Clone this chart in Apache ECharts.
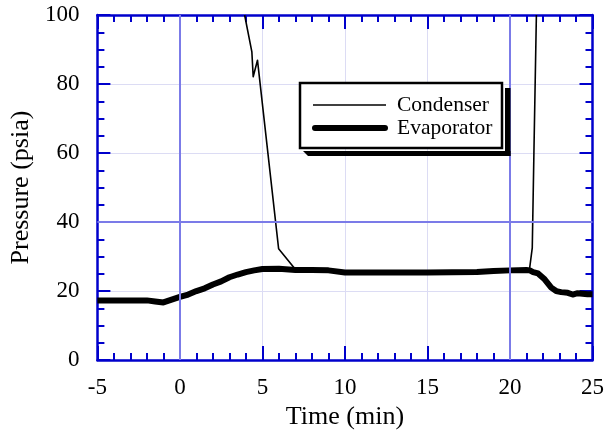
<!DOCTYPE html>
<html>
<head>
<meta charset="utf-8">
<script src="https://cdn.jsdelivr.net/npm/echarts@6/dist/echarts.min.js"></script>
<style>
  html, body { margin: 0; padding: 0; background: #fff; }
  #chart { width: 607px; height: 435px; }
</style>
</head>
<body>
<div id="chart"></div>
<script>
// Pressure traces over time (minutes vs psia)
const condenserTime = [3.92, 4.36, 4.44, 4.70, 5.98, 6.93, 8, 9, 10, 12, 15, 18, 20, 21.18, 21.35, 21.45, 21.6];
const condenserPsia = [100, 89.3, 82.1, 86.9, 32.3, 26.7, 26.1, 26.0, 25.4, 25.4, 25.4, 25.5, 26.0, 26.2, 32.5, 60, 100];

const evapTime = [-5, -4, -3, -2, -1.5, -1, -0.5, 0, 0.5, 1, 1.5, 2, 2.5, 3, 3.5, 4, 4.5, 5, 6, 7, 8, 9, 10, 12, 15, 18, 19, 20, 21, 21.2, 21.4, 21.7, 22.1, 22.5, 22.8, 23.1, 23.5, 23.8, 24.1, 24.7, 25];
const evapPsia = [17.3, 17.3, 17.3, 17.3, 17.0, 16.7, 17.5, 18.3, 19.0, 20.0, 20.8, 21.9, 22.8, 24.0, 24.8, 25.5, 26.0, 26.4, 26.5, 26.1, 26.1, 26.0, 25.4, 25.4, 25.4, 25.5, 25.8, 26.0, 26.1, 26.0, 25.5, 25.1, 23.4, 21.0, 20.0, 19.7, 19.5, 19.0, 19.4, 19.1, 19.1];

const xMin = -5, xMax = 25, xStep = 5;
const yMin = 0, yMax = 100, yStep = 20;
const refTimes = [0, 20];
const refPsia = [40];
const seriesNames = ['Condenser', 'Evaporator'];

const pairs = (xs, ys) => xs.map((x, i) => [x, ys[i]]);

const FONT = 'Liberation Serif';
const AXIS_BLUE = '#0000cc';
const REF_BLUE = '#7b7be8';
const GRID_LAV = '#dcdcf4';

function xAxisCfg(pos, showLabels) {
  return {
    type: 'value', position: pos, min: xMin, max: xMax, interval: xStep,
    axisLine: { show: true, onZero: false, lineStyle: { color: AXIS_BLUE, width: 2.5 } },
    axisTick: { show: true, inside: true, length: 14, lineStyle: { color: AXIS_BLUE, width: 2 } },
    minorTick: { show: true, splitNumber: 5, length: 7, lineStyle: { color: AXIS_BLUE, width: 2 } },
    axisLabel: { show: showLabels, margin: 16, color: '#000', fontFamily: FONT, fontSize: 23 },
    splitLine: { show: showLabels, lineStyle: { color: GRID_LAV, width: 1 } },
    name: showLabels ? 'Time (min)' : '', nameLocation: 'middle', nameGap: 38,
    nameTextStyle: { color: '#000', fontFamily: FONT, fontSize: 26 }
  };
}
function yAxisCfg(pos, showLabels) {
  return {
    type: 'value', position: pos, min: yMin, max: yMax, interval: yStep,
    axisLine: { show: true, onZero: false, lineStyle: { color: AXIS_BLUE, width: 2.5 } },
    axisTick: { show: true, inside: true, length: 13, lineStyle: { color: AXIS_BLUE, width: 2 } },
    minorTick: { show: true, splitNumber: 4, length: 7, lineStyle: { color: AXIS_BLUE, width: 2 } },
    axisLabel: { show: showLabels, margin: 18, color: '#000', fontFamily: FONT, fontSize: 23 },
    splitLine: { show: showLabels, lineStyle: { color: GRID_LAV, width: 1 } },
    name: showLabels ? 'Pressure (psia)' : '', nameLocation: 'middle', nameGap: 62,
    nameTextStyle: { color: '#000', fontFamily: FONT, fontSize: 26 }
  };
}

const chart = echarts.init(document.getElementById('chart'), null, { renderer: 'canvas' });

// Legend box with drop shadow
const lgX = 300, lgY = 83, lgW = 202, lgH = 65;
const legendFont = '21.5px "Liberation Serif"';
const legendGraphics = [
  { type: 'rect', shape: { x: lgX + lgW + 3, y: lgY + 5, width: 5.5, height: lgH + 3 }, style: { fill: '#000' }, z: 100 },
  { type: 'polygon', shape: { points: [[lgX + 3, lgY + lgH + 3], [lgX + lgW + 8.5, lgY + lgH + 3], [lgX + lgW + 8.5, lgY + lgH + 8], [lgX + 8, lgY + lgH + 8]] }, style: { fill: '#000' }, z: 100 },
  { type: 'rect', shape: { x: lgX, y: lgY, width: lgW, height: lgH }, style: { fill: '#fff', stroke: '#000', lineWidth: 2.5 }, z: 101 },
  { type: 'line', shape: { x1: 313, y1: 105, x2: 386, y2: 105 }, style: { stroke: '#000', lineWidth: 1.5 }, z: 102 },
  { type: 'line', shape: { x1: 315, y1: 128, x2: 385, y2: 128 }, style: { stroke: '#000', lineWidth: 6, lineCap: 'round' }, z: 102 },
  { type: 'text', x: 397, y: 105, style: { text: seriesNames[0], fill: '#000', font: legendFont, verticalAlign: 'middle', textAlign: 'left' }, z: 102 },
  { type: 'text', x: 397, y: 128, style: { text: seriesNames[1], fill: '#000', font: legendFont, verticalAlign: 'middle', textAlign: 'left' }, z: 102 }
];

chart.setOption({
  animation: false,
  backgroundColor: '#fff',
  grid: { left: 97, right: 12, top: 15, bottom: 72, containLabel: false },
  xAxis: [xAxisCfg('bottom', true), xAxisCfg('top', false)],
  yAxis: [yAxisCfg('left', true), yAxisCfg('right', false)],
  graphic: legendGraphics,
  series: [
    {
      // reference lines at t = 0, 20 min and 40 psia
      type: 'line', data: [], z: 1, silent: true,
      markLine: {
        silent: true, symbol: 'none', label: { show: false },
        lineStyle: { color: REF_BLUE, width: 2, type: 'solid' },
        data: refTimes.map(v => ({ xAxis: v })).concat(refPsia.map(v => ({ yAxis: v })))
      }
    },
    {
      name: seriesNames[0], type: 'line', data: pairs(condenserTime, condenserPsia),
      showSymbol: false, symbol: 'none', z: 3, clip: true,
      lineStyle: { color: '#000', width: 1.6, join: 'round' }
    },
    {
      name: seriesNames[1], type: 'line', data: pairs(evapTime, evapPsia),
      showSymbol: false, symbol: 'none', z: 4, clip: true,
      lineStyle: { color: '#000', width: 6, join: 'round', cap: 'butt' }
    }
  ]
});
</script>
</body>
</html>
